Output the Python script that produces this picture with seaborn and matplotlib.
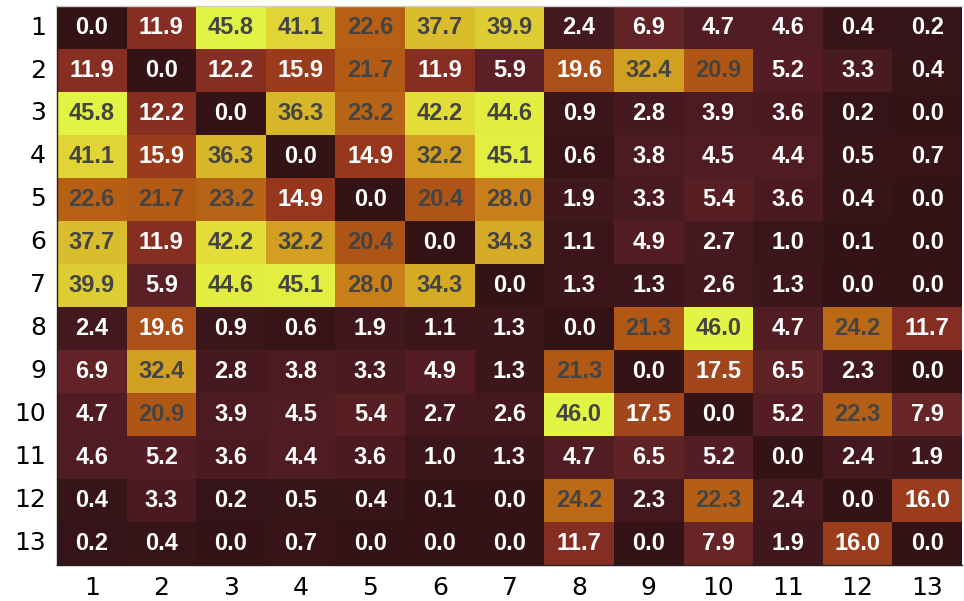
import numpy as np
import pandas as pd
import matplotlib
matplotlib.use("Agg")
import matplotlib.pyplot as plt
from matplotlib.colors import LinearSegmentedColormap
import seaborn as sns

labels = [str(i) for i in range(1, 14)]

row_1 = [0.0, 11.9, 45.8, 41.1, 22.6, 37.7, 39.9, 2.4, 6.9, 4.7, 4.6, 0.4, 0.2]
row_2 = [11.9, 0.0, 12.2, 15.9, 21.7, 11.9, 5.9, 19.6, 32.4, 20.9, 5.2, 3.3, 0.4]
row_3 = [45.8, 12.2, 0.0, 36.3, 23.2, 42.2, 44.6, 0.9, 2.8, 3.9, 3.6, 0.2, 0.0]
row_4 = [41.1, 15.9, 36.3, 0.0, 14.9, 32.2, 45.1, 0.6, 3.8, 4.5, 4.4, 0.5, 0.7]
row_5 = [22.6, 21.7, 23.2, 14.9, 0.0, 20.4, 28.0, 1.9, 3.3, 5.4, 3.6, 0.4, 0.0]
row_6 = [37.7, 11.9, 42.2, 32.2, 20.4, 0.0, 34.3, 1.1, 4.9, 2.7, 1.0, 0.1, 0.0]
row_7 = [39.9, 5.9, 44.6, 45.1, 28.0, 34.3, 0.0, 1.3, 1.3, 2.6, 1.3, 0.0, 0.0]
row_8 = [2.4, 19.6, 0.9, 0.6, 1.9, 1.1, 1.3, 0.0, 21.3, 46.0, 4.7, 24.2, 11.7]
row_9 = [6.9, 32.4, 2.8, 3.8, 3.3, 4.9, 1.3, 21.3, 0.0, 17.5, 6.5, 2.3, 0.0]
row_10 = [4.7, 20.9, 3.9, 4.5, 5.4, 2.7, 2.6, 46.0, 17.5, 0.0, 5.2, 22.3, 7.9]
row_11 = [4.6, 5.2, 3.6, 4.4, 3.6, 1.0, 1.3, 4.7, 6.5, 5.2, 0.0, 2.4, 1.9]
row_12 = [0.4, 3.3, 0.2, 0.5, 0.4, 0.1, 0.0, 24.2, 2.3, 22.3, 2.4, 0.0, 16.0]
row_13 = [0.2, 0.4, 0.0, 0.7, 0.0, 0.0, 0.0, 11.7, 0.0, 7.9, 1.9, 16.0, 0.0]

rows = [row_1, row_2, row_3, row_4, row_5, row_6, row_7,
        row_8, row_9, row_10, row_11, row_12, row_13]
df = pd.DataFrame(rows, index=labels, columns=labels)

# dark maroon -> brick red -> orange -> gold -> lime yellow
cmap = LinearSegmentedColormap.from_list("maroon_lime", [
    (0.00, "#341317"),
    (0.05, "#43181e"),
    (0.10, "#511c23"),
    (0.15, "#622326"),
    (0.26, "#862e22"),
    (0.33, "#98381c"),
    (0.38, "#a0451c"),
    (0.47, "#b35a14"),
    (0.61, "#c8801a"),
    (0.70, "#d29e20"),
    (0.79, "#d8b52a"),
    (0.85, "#dcc630"),
    (0.92, "#e2de38"),
    (1.00, "#e2f544"),
])

fig = plt.figure(figsize=(9.64, 6.01), dpi=100)
ax = fig.add_axes([0.059, 0.06, 0.939, 0.93])

sns.heatmap(df, ax=ax, cmap=cmap, vmin=0, vmax=46.0, cbar=False,
            annot=True, fmt=".1f",
            annot_kws={"fontsize": 17, "fontweight": "bold",
                       "family": "Liberation Sans"})

vals = df.values.ravel()
for txt, v in zip(ax.texts, vals):
    txt.set_color("#444444" if v >= 20.0 else "white")

ax.tick_params(axis="both", length=0, labelsize=18, pad=8)
ax.set_xticklabels(labels, rotation=0)
ax.set_yticklabels(labels, rotation=0)
ax.set_xlabel("")
ax.set_ylabel("")

for side in ["left", "bottom"]:
    ax.spines[side].set_visible(True)
    ax.spines[side].set_color("#222222")
    ax.spines[side].set_linewidth(1.0)
ax.spines["top"].set_visible(True)
ax.spines["top"].set_color("#cccccc")
ax.spines["top"].set_linewidth(1.0)

fig.savefig("out.png", dpi=100)
